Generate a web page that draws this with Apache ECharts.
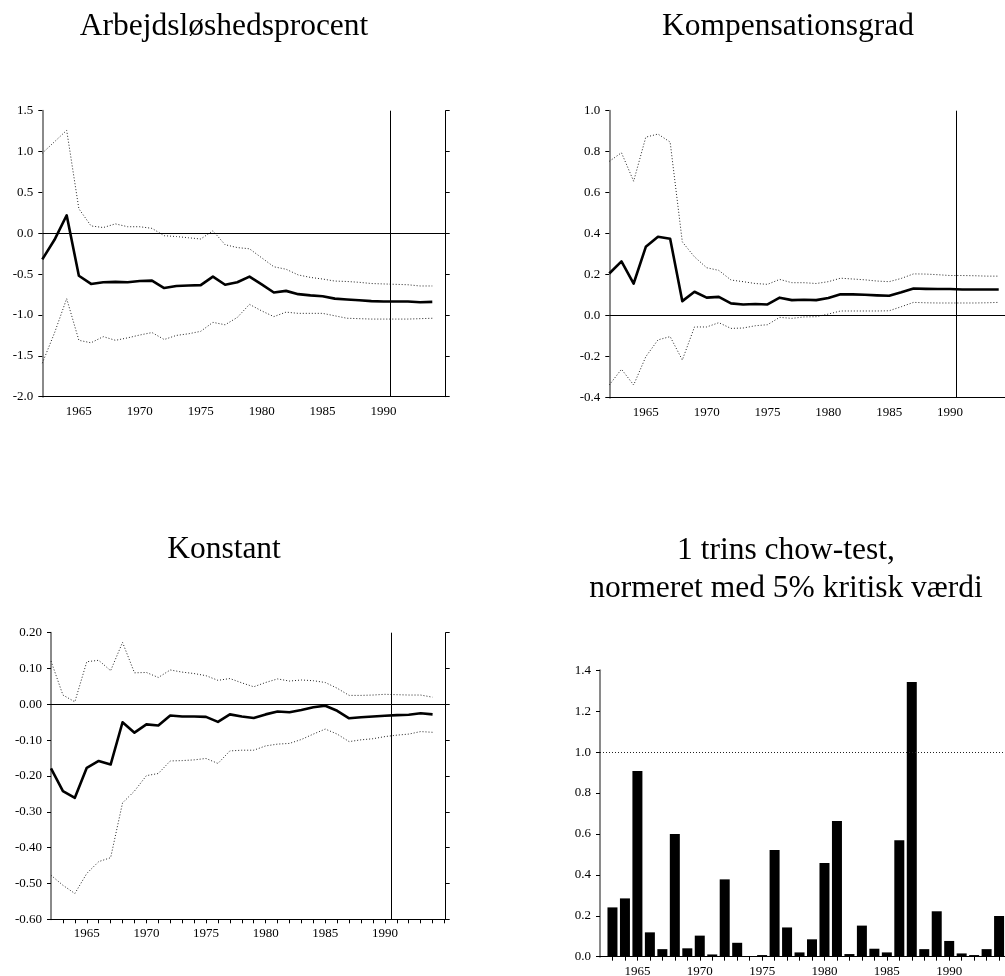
<!DOCTYPE html>
<html>
<head>
<meta charset="utf-8">
<script src="https://cdn.jsdelivr.net/npm/echarts@6/dist/echarts.min.js"></script>
<style>html,body{margin:0;padding:0;background:#fff}#c{width:1005px;height:976px}</style>
</head>
<body>
<div id="c"></div>
<script>
// ---------- data ----------
const years = [1962,1963,1964,1965,1966,1967,1968,1969,1970,1971,1972,1973,1974,1975,1976,1977,1978,1979,1980,1981,1982,1983,1984,1985,1986,1987,1988,1989,1990,1991,1992,1993,1994];
const chowYears = [1963,1964,1965,1966,1967,1968,1969,1970,1971,1972,1973,1974,1975,1976,1977,1978,1979,1980,1981,1982,1983,1984,1985,1986,1987,1988,1989,1990,1991,1992,1993,1994];
const xTickLabels = [1965, 1970, 1975, 1980, 1985, 1990];

const unempMid = [-0.32,-0.08,0.22,-0.52,-0.62,-0.60,-0.595,-0.60,-0.585,-0.58,-0.67,-0.645,-0.64,-0.635,-0.53,-0.63,-0.60,-0.53,-0.625,-0.725,-0.705,-0.745,-0.76,-0.77,-0.80,-0.81,-0.82,-0.83,-0.835,-0.835,-0.835,-0.845,-0.84];
const unempHi = [0.98,1.12,1.26,0.30,0.09,0.07,0.115,0.08,0.08,0.06,-0.03,-0.04,-0.055,-0.07,0.03,-0.14,-0.175,-0.19,-0.30,-0.41,-0.44,-0.51,-0.54,-0.56,-0.585,-0.59,-0.60,-0.615,-0.62,-0.625,-0.63,-0.645,-0.645];
const unempLo = [-1.59,-1.22,-0.80,-1.31,-1.34,-1.265,-1.31,-1.28,-1.245,-1.215,-1.30,-1.25,-1.23,-1.20,-1.09,-1.12,-1.03,-0.87,-0.95,-1.02,-0.965,-0.98,-0.98,-0.98,-1.01,-1.04,-1.045,-1.05,-1.05,-1.05,-1.05,-1.045,-1.04];

const compMid = [0.206,0.265,0.157,0.336,0.385,0.375,0.071,0.117,0.088,0.092,0.060,0.055,0.057,0.055,0.088,0.076,0.078,0.076,0.086,0.105,0.104,0.102,0.099,0.097,0.114,0.133,0.131,0.130,0.130,0.128,0.128,0.128,0.128];
const compHi = [0.753,0.795,0.656,0.871,0.886,0.847,0.360,0.287,0.234,0.221,0.174,0.166,0.157,0.153,0.177,0.161,0.161,0.157,0.166,0.183,0.179,0.175,0.169,0.166,0.182,0.204,0.203,0.200,0.196,0.196,0.195,0.193,0.193];
const compLo = [-0.338,-0.261,-0.338,-0.200,-0.118,-0.102,-0.216,-0.055,-0.055,-0.034,-0.062,-0.060,-0.049,-0.044,-0.008,-0.013,-0.006,-0.005,0.008,0.023,0.023,0.023,0.023,0.024,0.044,0.065,0.063,0.062,0.062,0.062,0.062,0.063,0.065];

const constMid = [-0.179,-0.242,-0.261,-0.177,-0.158,-0.168,-0.050,-0.079,-0.056,-0.059,-0.031,-0.034,-0.034,-0.035,-0.049,-0.028,-0.034,-0.038,-0.028,-0.020,-0.022,-0.016,-0.008,-0.004,-0.018,-0.039,-0.036,-0.034,-0.032,-0.030,-0.029,-0.025,-0.028];
const constHi = [0.121,0.026,0.007,0.119,0.123,0.094,0.173,0.088,0.089,0.075,0.096,0.090,0.086,0.080,0.067,0.072,0.060,0.049,0.061,0.071,0.065,0.068,0.066,0.061,0.045,0.025,0.025,0.026,0.028,0.027,0.026,0.026,0.020];
const constLo = [-0.477,-0.505,-0.528,-0.472,-0.439,-0.428,-0.275,-0.242,-0.199,-0.193,-0.158,-0.157,-0.155,-0.151,-0.165,-0.130,-0.128,-0.128,-0.116,-0.111,-0.109,-0.098,-0.083,-0.069,-0.083,-0.104,-0.099,-0.096,-0.090,-0.086,-0.083,-0.076,-0.078];

const chow = [0.241,0.285,0.908,0.119,0.037,0.600,0.041,0.103,0.011,0.378,0.068,0.003,0.008,0.522,0.143,0.021,0.085,0.458,0.663,0.013,0.152,0.039,0.021,0.569,1.343,0.037,0.222,0.077,0.016,0.008,0.037,0.199];

const breakYear = 1990.55;
const critVal = 1.0;
const titles = ['Arbejdsløshedsprocent', 'Kompensationsgrad', 'Konstant', '1 trins chow-test,', 'normeret med 5% kritisk værdi'];

// ---------- chart ----------
const FONT = '"Liberation Serif", "Times New Roman", serif';
const pairs = (xs, ys) => xs.map((x, i) => [x, ys[i]]);

function xAxis(gi, ticks) {
  return {
    gridIndex: gi, type: 'value', min: 1962, max: 1995.1, interval: 1,
    axisLine: { show: true, onZero: false, lineStyle: { color: '#000', width: 1 } },
    axisTick: { show: ticks, length: 4, lineStyle: { color: '#000' } },
    axisLabel: { fontFamily: FONT, fontSize: 13, color: '#000', margin: 8,
      showMinLabel: false, showMaxLabel: false,
      formatter: v => (xTickLabels.indexOf(Math.round(v)) >= 0 && Math.abs(v - Math.round(v)) < 1e-6 ? String(Math.round(v)) : '') },
    splitLine: { show: false }
  };
}
function yAxisL(gi, min, max, interval, dec) {
  return {
    gridIndex: gi, type: 'value', min, max, interval, position: 'left',
    axisLine: { show: true, lineStyle: { color: '#8a8a8a', width: 2 } },
    axisTick: { show: true, length: 4, lineStyle: { color: '#000' } },
    axisLabel: { fontFamily: FONT, fontSize: 13, color: '#000', margin: 9,
      formatter: v => v.toFixed(dec) },
    splitLine: { show: false }
  };
}
function yAxisR(gi, min, max, interval) {
  return {
    gridIndex: gi, type: 'value', min, max, interval, position: 'right',
    axisLine: { show: true, onZero: false, lineStyle: { color: '#000', width: 1 } },
    axisTick: { show: true, length: 4, lineStyle: { color: '#000' } },
    axisLabel: { show: false }, splitLine: { show: false }
  };
}
function band(xi, yi, data) {
  return { type: 'line', xAxisIndex: xi, yAxisIndex: yi, data: pairs(years, data),
    symbol: 'none', silent: true, z: 2,
    lineStyle: { color: '#222', width: 1, type: [1, 2] } };
}
function mid(xi, yi, data) {
  return { type: 'line', xAxisIndex: xi, yAxisIndex: yi, data: pairs(years, data),
    symbol: 'none', silent: true, z: 3,
    lineStyle: { color: '#000', width: 2.6, join: 'round' },
    markLine: { silent: true, symbol: 'none', label: { show: false }, animation: false,
      lineStyle: { color: '#000', width: 1, type: 'solid' },
      data: [{ yAxis: 0 }, { xAxis: breakYear }] } };
}
function title(text, x, y) {
  return { type: 'text', x, y, style: { text, fontFamily: FONT, fontSize: 31.5, fill: '#000',
    textAlign: 'center', textVerticalAlign: 'middle' } };
}
function grid(left, top, width, height) {
  return { left, top, width, height, containLabel: false, outerBoundsMode: 'none' };
}

const option = {
  animation: false,
  backgroundColor: '#fff',
  grid: [
    grid(42.3, 110.7, 403.4, 286),
    grid(609.3, 110.7, 402.8, 287),
    grid(51, 632.7, 394.7, 286.6),
    grid(600, 670.3, 412.8, 286.4)
  ],
  xAxis: [xAxis(0, false), xAxis(1, false), xAxis(2, true), xAxis(3, true)],
  yAxis: [
    yAxisL(0, -2.0, 1.5, 0.5, 1),
    yAxisL(1, -0.4, 1.0, 0.2, 1),
    yAxisL(2, -0.6, 0.2, 0.1, 2),
    yAxisL(3, 0, 1.4, 0.2, 1),
    yAxisR(0, -2.0, 1.5, 0.5),
    yAxisR(2, -0.6, 0.2, 0.1)
  ],
  series: [
    band(0, 0, unempHi), band(0, 0, unempLo), mid(0, 0, unempMid),
    band(1, 1, compHi), band(1, 1, compLo), mid(1, 1, compMid),
    band(2, 2, constHi), band(2, 2, constLo), mid(2, 2, constMid),
    { type: 'bar', xAxisIndex: 3, yAxisIndex: 3, data: pairs(chowYears, chow),
      barWidth: 10, silent: true, itemStyle: { color: '#000' },
      markLine: { silent: true, symbol: 'none', label: { show: false },
        lineStyle: { color: '#222', width: 1, type: [1, 2] },
        data: [{ yAxis: critVal }] } }
  ],
  graphic: [
    title(titles[0], 224, 27),
    title(titles[1], 788, 27),
    title(titles[2], 224, 550),
    title(titles[3], 786, 551),
    title(titles[4], 786, 589)
  ]
};
echarts.init(document.getElementById('c'), null, { renderer: 'canvas' }).setOption(option);
</script>
</body>
</html>
